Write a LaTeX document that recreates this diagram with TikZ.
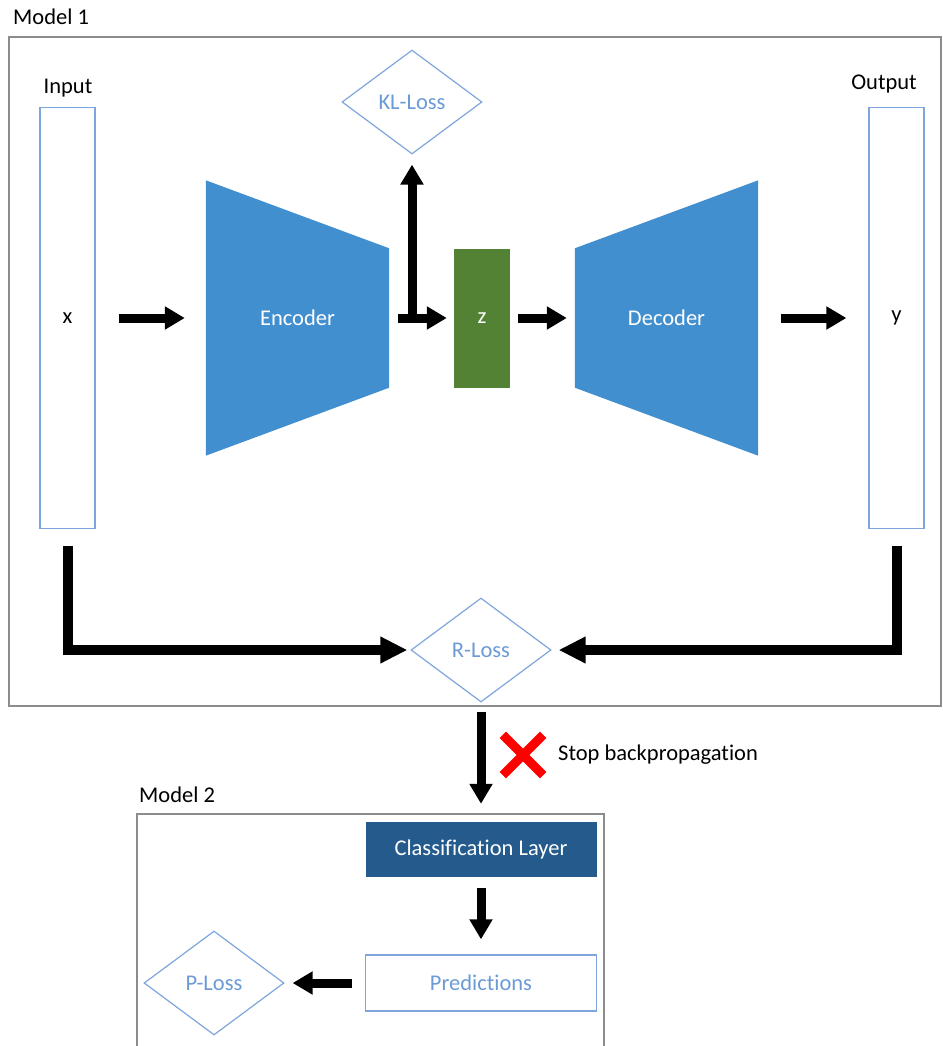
\documentclass[tikz,border=0pt]{standalone}
\usepackage{fontspec}
\setmainfont{Carlito}[Ligatures=CommonOff]
\usetikzlibrary{arrows.meta,shapes.geometric,backgrounds}
\definecolor{encblue}{HTML}{428FCF}
\definecolor{zgreen}{HTML}{548235}
\definecolor{clsblue}{HTML}{245B8C}
\definecolor{lossblue}{HTML}{7EA6DC}
\definecolor{losstext}{HTML}{6B9AD5}
\definecolor{framegray}{HTML}{8C8C8C}

\begin{document}
\begin{tikzpicture}[x=1pt,y=-1pt,
   every node/.style={font=\fontsize{22.5}{27}\selectfont,inner sep=0pt},
   frame/.style={draw=framegray,line width=2.5pt},
   column/.style={draw=lossblue,line width=1.3pt,minimum width=55pt,minimum height=421pt},
   loss/.style={diamond,draw=lossblue,line width=1.2pt,text=losstext,minimum width=140pt,minimum height=104pt},
   body/.style={minimum width=183pt,minimum height=275pt,text=white},
   fat/.style={line width=9pt,-{Triangle[length=20pt,width=22pt]}},
   fatter/.style={line width=10pt,-{Triangle[length=27pt,width=25pt]}}]
   \useasboundingbox (0,0) rectangle (942,1046);
   \node[frame,minimum width=932pt,minimum height=669pt] (m1) at (475,371.5) {};
   \node[anchor=west] (m1lab) at (13,17) {Model 1};
   \node (inlab) at (68,88) {Input};
   \node (outlab) at (884,84) {Output};
   \node[column] (xin) at (67.5,318) {x};
   \node[column] (yout) at (896.5,318) {y};
   \node[body] (enc) at (297.5,318) {Encoder};
   \node[body] (dec) at (666.5,318) {Decoder};
   \begin{scope}[on background layer]
      \fill[encblue] (enc.north west) -- ([yshift=-68pt]enc.north east) -- ([yshift=68pt]enc.south east) -- (enc.south west) -- cycle;
      \fill[encblue] ([yshift=-68pt]dec.north west) -- (dec.north east) -- (dec.south east) -- ([yshift=68pt]dec.south west) -- cycle;
   \end{scope}
   \node[fill=zgreen,text=white,minimum width=56pt,minimum height=139pt] (z) at (482,318) {z};
   \node[loss] (kl) at (412,102) {KL-Loss};
   \node[loss] (rl) at (481,650) {R-Loss};
   \draw[fat,shorten <=23pt,shorten >=21pt] (xin) -- (enc);
   \draw[fat,shorten <=9pt,shorten >=7pt] (enc) -- (z);
   \draw[fat,shorten >=10pt] (kl |- z) -- (kl);
   \draw[fat,shorten <=8pt,shorten >=8pt] (z) -- (dec);
   \draw[fat,shorten <=23pt,shorten >=22pt] (dec) -- (yout);
   \draw[fatter,shorten <=17pt,shorten >=3pt] (xin.south) |- (rl.west);
   \draw[fatter,shorten <=17pt,shorten >=7pt] (yout.south) |- (rl.east);

   \node[minimum size=40pt] (stop) at (523,755) {};
   \draw[red,line width=9pt] (stop.north west) -- (stop.south east) (stop.north east) -- (stop.south west);
   \node[anchor=west] (stoptxt) at (558,755) {Stop backpropagation};
   \node[anchor=west] (m2lab) at (139,795) {Model 2};
   \draw[frame] (137,1046) |- (604,814) -- (604,1046);
   \node[fill=clsblue,text=white,minimum width=231pt,minimum height=55pt] (cls) at (481,849.5) {Classification Layer};
   \node[draw=lossblue,line width=1.3pt,text=losstext,minimum width=231pt,minimum height=56pt] (pred) at (481,983) {Predictions};
   \node[loss] (pl) at (214,983) {P-Loss};
   \draw[fat,shorten <=9pt,shorten >=18pt] (rl) -- (cls);
   \draw[fat,shorten <=11pt,shorten >=15pt] (cls) -- (pred);
   \draw[fat,shorten <=13pt,shorten >=8pt] (pred) -- (pl);
\end{tikzpicture}
\end{document}
